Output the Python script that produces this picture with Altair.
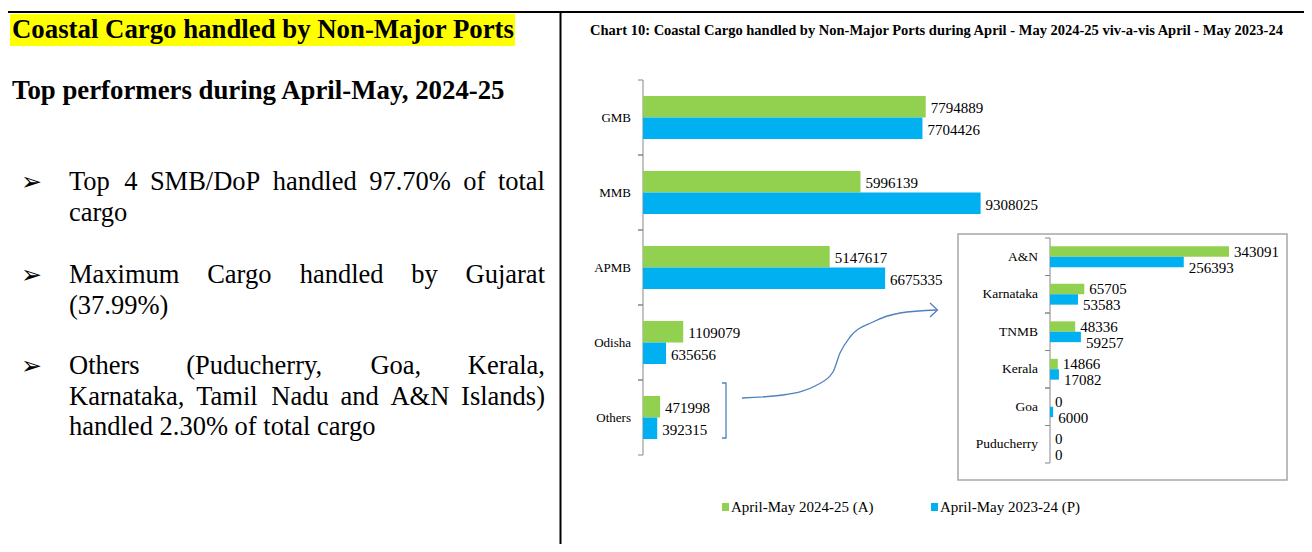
import altair as alt
import pandas as pd

# ---------------- data ----------------
ports = ["GMB", "MMB", "APMB", "Odisha", "Others"]
cur_vals = [7794889, 5996139, 5147617, 1109079, 471998]
prev_vals = [7704426, 9308025, 6675335, 635656, 392315]

inset_ports = ["A&N", "Karnataka", "TNMB", "Kerala", "Goa", "Puducherry"]
inset_cur = [343091, 65705, 48336, 14866, 0, 0]
inset_prev = [256393, 53583, 59257, 17082, 6000, 0]

series = ["April-May 2024-25 (A)", "April-May 2023-24 (P)"]
colors = ["#92D050", "#00B0F0"]

panel_title = "Coastal Cargo handled by Non-Major Ports"
panel_sub = "Top performers during April-May, 2024-25"
chart_title = ("Chart 10: Coastal Cargo handled by Non-Major Ports during April - May 2024-25 "
               "viv-a-vis April - May 2023-24")
# bullet paragraphs: (justified lines, last line)
bullets = [
    (["Top 4 SMB/DoP handled 97.70% of total"], "cargo"),
    (["Maximum Cargo handled by Gujarat"], "(37.99%)"),
    (["Others (Puducherry, Goa, Kerala,", "Karnataka, Tamil Nadu and A&N Islands)"],
     "handled 2.30% of total cargo"),
]

def long_df(cats, a, b):
    rows = []
    for c, va, vb in zip(cats, a, b):
        rows.append({"cat": c, "series": series[0], "value": va})
        rows.append({"cat": c, "series": series[1], "value": vb})
    return pd.DataFrame(rows)

main_df = long_df(ports, cur_vals, prev_vals)
inset_df = long_df(inset_ports, inset_cur, inset_prev)

SERIF = "Liberation Serif"
W, H = 1296, 536
# pixel scales in page coordinates (page has an 8px margin)
PX = alt.Scale(domain=[8, 8 + W], range=[0, W])
PY = alt.Scale(domain=[8, 8 + H], range=[0, H])

# Times / Liberation Serif advance widths (1/1000 em) used to justify text
_TW = {" ": 250, "%": 833, "&": 778, "(": 333, ")": 333, ",": 250, "-": 333, ".": 250, "/": 278,
       "A": 722, "B": 667, "C": 667, "D": 722, "G": 722, "I": 333, "K": 722, "M": 889, "N": 722,
       "O": 722, "P": 556, "S": 556, "T": 611,
       "a": 444, "b": 500, "c": 444, "d": 500, "e": 444, "f": 333, "g": 500, "h": 500, "i": 278,
       "j": 278, "k": 500, "l": 278, "m": 778, "n": 500, "o": 500, "p": 500, "r": 333, "s": 389,
       "t": 278, "u": 500, "v": 500, "x": 500, "y": 500, "z": 444}

def text_w(s, fs):
    return sum(_TW.get(ch, 500) for ch in s) / 1000 * fs

def justify(line, x0, x1, y, fs):
    words = line.split()
    widths = [text_w(w, fs) for w in words]
    gap = (x1 - x0 - sum(widths)) / (len(words) - 1)
    out, x = [], x0
    for w, wd in zip(words, widths):
        out.append((w, x, y))
        x += wd + gap
    return out

def px_text(rows, **mark):
    df = pd.DataFrame(rows, columns=["t", "x", "y"])
    return alt.Chart(df).mark_text(**mark).encode(
        x=alt.X("x:Q", scale=PX, axis=None),
        y=alt.Y("y:Q", scale=PY, axis=None),
        text="t:N",
    )

def px_rules(rows, **mark):
    df = pd.DataFrame(rows, columns=["x", "y", "x2", "y2"])
    return alt.Chart(df).mark_rule(**mark).encode(
        x=alt.X("x:Q", scale=PX, axis=None),
        y=alt.Y("y:Q", scale=PY, axis=None),
        x2="x2:Q", y2="y2:Q",
    )

def px_rect(rows, **mark):
    df = pd.DataFrame(rows, columns=["x", "y", "x2", "y2"])
    return alt.Chart(df).mark_rect(**mark).encode(
        x=alt.X("x:Q", scale=PX, axis=None),
        y=alt.Y("y:Q", scale=PY, axis=None),
        x2="x2:Q", y2="y2:Q",
    )

def px_line(xs, ys, **mark):
    df = pd.DataFrame({"x": xs, "y": ys, "i": list(range(len(xs)))})
    return alt.Chart(df).mark_line(**mark).encode(
        x=alt.X("x:Q", scale=PX, axis=None),
        y=alt.Y("y:Q", scale=PY, axis=None),
        order="i:Q",
    )

FS = 26.5
TX0, TX1 = 69, 545
LINE = 30.7
para_tops = [182, 275, 366]
words, marks = [], []
for (jl, last), y0 in zip(bullets, para_tops):
    marks.append(("\u27a2", 21, y0))
    y = y0
    for ln in jl:
        words += justify(ln, TX0, TX1, y, FS)
        y += LINE
    words.append((last, TX0, y))

# manual legend (swatch left edge, label left edge)
legend_pos = [(722, 731), (931, 940)]
LEG_Y = 507
legend_layers = []
for (sx, tx), s, c in zip(legend_pos, series, colors):
    legend_layers.append(px_rect([(sx, LEG_Y - 4, sx + 7, LEG_Y + 4)], color=c))
    legend_layers.append(px_text([(s, tx, LEG_Y)], font=SERIF, fontSize=15, color="black",
                                 baseline="middle", align="left"))

px_group = alt.layer(
    px_rect([(10, 14, 515, 46)], color="#FFFF00"),
    px_rules([(8, 12, 8 + W, 12), (560.5, 12, 560.5, 560)], color="black", strokeWidth=2),
    px_text([(panel_title, 12, 30), (panel_sub, 12, 91)], font=SERIF, fontSize=26.8,
            fontWeight="bold", color="black", baseline="middle", align="left"),
    px_text(words, align="left", font=SERIF, fontSize=FS, color="black", baseline="middle"),
    px_text(marks, font="DejaVu Sans", fontSize=25, color="black", baseline="middle",
            align="left"),
    px_text([(chart_title, 590, 31)], font=SERIF, fontSize=14.5, fontWeight="bold",
            color="black", baseline="middle", align="left"),
    # inset frame
    px_rect([(958, 234, 1287, 480)], fill="white", stroke="#A6A6A6", strokeWidth=1.5),
    # axis lines
    px_rules([(643, 80, 643, 455), (1050, 238, 1050, 463)], color="#868686", strokeWidth=1),
    # bracket and curved arrow
    px_line([722, 726, 726, 722], [383, 383, 438, 438], color="#4F81BD", strokeWidth=1.3),
    px_line([742, 783, 817, 833, 840, 850, 873, 900, 937],
            [398, 395, 385, 372, 353, 337, 322, 313, 310],
            color="#4F81BD", strokeWidth=1.3, interpolate="monotone"),
    px_line([930, 937.5, 930], [303, 310, 317], color="#4F81BD", strokeWidth=1.3),
    *legend_layers,
)

color_enc = alt.Color("series:N", scale=alt.Scale(domain=series, range=colors), legend=None)


def bar_group(df, cats, yrange, xdomain, xrange, off_pad, label_x, tick_x, cat_fs, dys):
    ys = alt.Scale(domain=cats, range=yrange, paddingInner=0, paddingOuter=0)
    xs = alt.Scale(domain=xdomain, range=xrange)
    offs = alt.Scale(domain=series, paddingInner=0, paddingOuter=off_pad)
    base = alt.Chart(df).encode(
        y=alt.Y("cat:N", scale=ys, axis=None, sort=cats),
        x=alt.X("value:Q", scale=xs, axis=None),
        yOffset=alt.YOffset("series:N", scale=offs, sort=series),
    )
    bars = base.mark_bar().encode(color=color_enc)
    labs = [
        base.transform_filter(alt.datum.series == s).mark_text(
            align="left", baseline="middle", dx=5, dy=d, font=SERIF, fontSize=15, color="black"
        ).encode(text=alt.Text("value:Q", format="d"))
        for s, d in zip(series, dys)
    ]
    cdf = pd.DataFrame({"cat": cats})
    cat_labels = alt.Chart(cdf).mark_text(
        align="right", baseline="middle", font=SERIF, fontSize=cat_fs, color="black"
    ).encode(y=alt.Y("cat:N", scale=ys, axis=None, sort=cats), x=alt.value(label_x), text="cat:N")
    ticks = [
        alt.Chart(cdf).mark_rule(color="#868686").encode(
            y=alt.Y("cat:N", scale=ys, axis=None, sort=cats, bandPosition=bp),
            x=alt.value(tick_x - 5), x2=alt.value(tick_x),
        )
        for bp in (0, 1)
    ]
    return alt.layer(bars, *labs, cat_labels, *ticks)


main_group = bar_group(main_df, ports, [72, 447], [0, 10000000], [635, 997.7], 0.744,
                       623, 635, 13, (1, 2))
inset_group = bar_group(inset_df, inset_ports, [230, 455], [0, 400000], [1042, 1250.7], 0.8,
                        1030, 1042, 13.5, (0, 6))

chart = alt.layer(px_group, main_group, inset_group).resolve_scale(
    x="independent", y="independent", yOffset="independent"
).properties(
    width=W, height=H, padding=0, autosize=alt.AutoSizeParams(type="none"),
    background="white",
).configure_view(stroke=None)

chart.save("out.html", embed_options={"renderer": "svg", "actions": False})
